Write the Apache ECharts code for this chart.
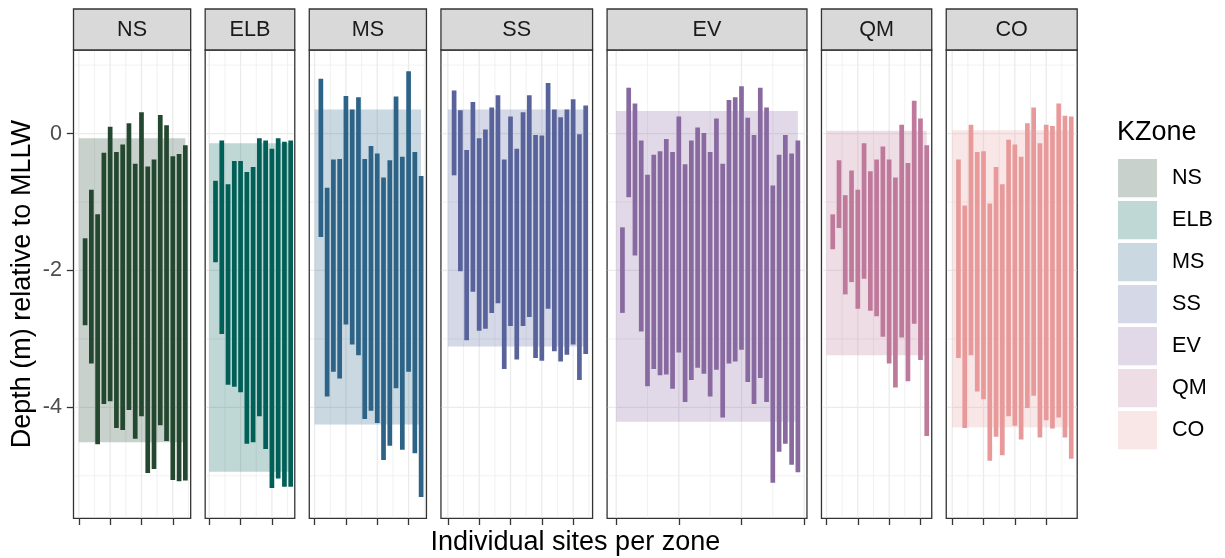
<!DOCTYPE html>
<html>
<head>
<meta charset="utf-8">
<script src="https://cdn.jsdelivr.net/npm/echarts@6/dist/echarts.min.js"></script>
<style>
  html, body { margin: 0; padding: 0; background: #ffffff; }
  #chart { width: 1225px; height: 558px; }
</style>
</head>
<body>
<div id="chart"></div>
<script>
// Zones in panel order and their colours
const zones = ['NS', 'ELB', 'MS', 'SS', 'EV', 'QM', 'CO'];
const zoneColors = ['#23472F', '#005F56', '#2C6387', '#59639B', '#8869A0', '#BF799B', '#E89A9A'];

// Per-site depth range (m, relative to MLLW): shallow end and deep end of each site
const nsTop    = [-1.53, -0.82, -1.18, -0.28, 0.10, -0.27, -0.16, 0.15, -0.44, 0.31, -0.48, -0.38, 0.27, 0.12, -0.33, -0.30, -0.17];
const nsBottom = [-2.80, -3.36, -4.54, -3.95, -3.91, -4.30, -4.33, -4.04, -4.46, -4.13, -4.96, -4.90, -4.26, -4.49, -5.06, -5.08, -5.07];

const elbTop    = [-0.69, -0.10, -0.74, -0.40, -0.40, -0.56, -0.49, -0.07, -0.10, -0.22, -0.07, -0.12, -0.10];
const elbBottom = [-1.88, -2.93, -3.67, -3.70, -3.78, -4.53, -4.51, -4.13, -4.61, -5.18, -5.04, -5.16, -5.16];

const msTop    = [0.80, -0.79, -0.38, -0.37, 0.55, 0.35, 0.53, -0.37, -0.18, -0.29, -0.64, -0.39, 0.54, -0.34, 0.91, -0.27, -0.62];
const msBottom = [-1.51, -3.84, -3.48, -3.58, -2.79, -3.08, -3.24, -4.17, -4.05, -4.23, -4.77, -4.56, -3.72, -4.62, -3.48, -4.67, -5.31];

const ssTop    = [0.63, 0.34, -0.24, 0.46, -0.07, 0.06, 0.38, 0.56, -0.38, 0.25, -0.22, 0.31, 0.56, -0.02, -0.03, 0.74, 0.35, 0.24, 0.35, 0.50, -0.01, 0.41];
const ssBottom = [-0.61, -2.01, -3.02, -2.31, -2.88, -2.85, -2.62, -2.48, -3.44, -2.81, -3.30, -2.81, -2.68, -3.28, -3.32, -2.56, -3.18, -3.33, -3.23, -3.08, -3.60, -3.22];

const evTop    = [-1.37, 0.67, 0.44, -0.10, -0.60, -0.31, -0.26, -0.08, -0.27, 0.25, -0.45, -0.10, 0.09, 0.01, -0.27, 0.22, -0.44, 0.49, 0.53, 0.69, 0.23, -0.02, 0.67, 0.38, -0.76, -0.31, -0.02, -0.29, -0.10];
const evBottom = [-2.62, -0.93, -1.78, -2.89, -3.69, -3.44, -3.53, -3.52, -3.73, -3.20, -3.92, -3.60, -3.42, -3.51, -3.84, -3.45, -4.15, -3.36, -3.33, -3.16, -3.63, -3.95, -3.57, -3.92, -5.10, -4.65, -4.53, -4.84, -4.95];

const qmTop    = [-1.18, -0.39, -0.90, -0.54, -0.82, -0.14, -0.55, -0.38, -0.19, -0.38, -0.64, 0.13, -0.43, 0.48, 0.22, -0.17];
const qmBottom = [-1.69, -1.38, -2.35, -2.17, -2.56, -2.12, -2.59, -2.67, -2.97, -3.36, -3.71, -2.98, -3.62, -2.78, -3.31, -4.42];

const coTop    = [-0.38, -1.05, 0.13, -0.27, -0.26, -1.02, -0.49, -0.74, -0.09, -0.16, -0.34, 0.15, 0.38, -0.14, 0.13, 0.11, 0.44, 0.26, 0.25];
const coBottom = [-3.28, -4.30, -3.24, -3.77, -3.88, -4.78, -4.43, -4.70, -4.13, -4.27, -4.47, -4.01, -3.83, -4.44, -4.19, -4.31, -4.15, -4.44, -4.75];

// Overall depth band of each zone
const zoneBandTop    = [-0.07, -0.14, 0.35, 0.35, 0.33, 0.04, 0.05];
const zoneBandBottom = [-4.51, -4.94, -4.25, -3.11, -4.21, -3.24, -4.29];

// Axis breaks
const xTickStep = [5, 5, 5, 5, 10, 5, 5];
const yTickValues = [0, -2, -4];
const yMinorValues = [1, -1, -3, -5];

const siteTops = [nsTop, elbTop, msTop, ssTop, evTop, qmTop, coTop];
const siteBottoms = [nsBottom, elbBottom, msBottom, ssBottom, evBottom, qmBottom, coBottom];

// ---------- layout ----------
const FONT = '"Liberation Sans", Arial, Helvetica, sans-serif';
const plotLeft = 73.5, plotRight = 1077.2, panelGap = 14.5;
const plotTop = 50, plotBottom = 518.3, stripTop = 9;
const tickLen = 6.7;
const borderCol = '#333333';
const gridCol = '#EBEBEB';

// y range: data extent expanded by 5% on each side
const allY = [].concat(...siteTops, ...siteBottoms, zoneBandTop, zoneBandBottom);
const yLo = Math.min(...allY), yHi = Math.max(...allY);
const yPad = 0.05 * (yHi - yLo);
const yMin = yLo - yPad, yMax = yHi + yPad;

// x range per panel: [0, n] expanded by 5%; panel widths proportional to range
const counts = siteTops.map(a => a.length);
const ranges = counts.map(n => 1.1 * n);
const totalRange = ranges.reduce((a, b) => a + b, 0);
const pxPerUnit = (plotRight - plotLeft - panelGap * (zones.length - 1)) / totalRange;

function hexToRgba(hex, a) {
  const v = parseInt(hex.slice(1), 16);
  return 'rgba(' + ((v >> 16) & 255) + ',' + ((v >> 8) & 255) + ',' + (v & 255) + ',' + a + ')';
}

const grids = [], xAxes = [], yAxes = [], series = [], graphics = [];
let left = plotLeft;

zones.forEach((zone, i) => {
  const n = counts[i];
  const width = ranges[i] * pxPerUnit;
  const xMin = -0.05 * n, xMax = 1.05 * n;
  const step = xTickStep[i];
  const majors = [], minors = [];
  for (let v = Math.ceil(xMin / step) * step; v <= xMax; v += step) majors.push(v);
  for (let v = Math.ceil((xMin - step / 2) / step) * step + step / 2; v <= xMax; v += step) {
    if (v >= xMin) minors.push(v);
  }

  grids.push({
    left: left, top: plotTop, width: width, height: plotBottom - plotTop,
    show: true, backgroundColor: '#ffffff', borderColor: borderCol, borderWidth: 1.3
  });

  xAxes.push({
    type: 'value', gridIndex: i, min: xMin, max: xMax, position: 'bottom',
    axisLine: { show: false, onZero: false },
    axisLabel: { show: false, customValues: majors },
    axisTick: { show: true, customValues: majors, length: tickLen, lineStyle: { color: borderCol, width: 1.3 } },
    splitLine: { show: false }
  });

  yAxes.push({
    type: 'value', gridIndex: i, min: yMin, max: yMax, position: 'left',
    axisLine: { show: false, onZero: false },
    axisTick: { show: i === 0, customValues: yTickValues, length: tickLen, lineStyle: { color: borderCol, width: 1.3 } },
    axisLabel: {
      show: i === 0, customValues: yTickValues, margin: 11.5,
      color: '#4D4D4D', fontFamily: FONT, fontSize: 21.6
    },
    splitLine: { show: false }
  });

  // grid lines (vertical then horizontal)
  series.push({
    type: 'custom', xAxisIndex: i, yAxisIndex: i, z: 1, silent: true,
    data: majors.map(v => [v, 0, 1]).concat(minors.map(v => [v, 0, 0])),
    renderItem: (params, api) => {
      const cs = params.coordSys;
      const x = api.coord([api.value(0), 0])[0];
      return { type: 'line', shape: { x1: x, y1: cs.y + 0.7, x2: x, y2: cs.y + cs.height - 0.7 },
               style: { stroke: gridCol, lineWidth: api.value(2) ? 1.3 : 0.7 } };
    }
  });
  series.push({
    type: 'custom', xAxisIndex: i, yAxisIndex: i, z: 1, silent: true,
    data: yTickValues.map(v => [0, v, 1]).concat(yMinorValues.map(v => [0, v, 0])),
    renderItem: (params, api) => {
      const cs = params.coordSys;
      const y = api.coord([0, api.value(1)])[1];
      return { type: 'line', shape: { x1: cs.x + 0.7, y1: y, x2: cs.x + cs.width - 0.7, y2: y },
               style: { stroke: gridCol, lineWidth: api.value(2) ? 1.3 : 0.7 } };
    }
  });

  // zone depth band
  series.push({
    name: zone, type: 'custom', xAxisIndex: i, yAxisIndex: i, z: 2,
    itemStyle: { color: hexToRgba(zoneColors[i], 0.25) },
    data: [[0, zoneBandTop[i], n, zoneBandBottom[i]]],
    renderItem: (params, api) => {
      const p1 = api.coord([api.value(0), api.value(1)]);
      const p2 = api.coord([api.value(2), api.value(3)]);
      return { type: 'rect', shape: { x: p1[0], y: p1[1], width: p2[0] - p1[0], height: p2[1] - p1[1] },
               style: { fill: zoneColors[i], opacity: 0.25 } };
    }
  });

  // one bar per site, spanning its depth range
  series.push({
    type: 'custom', xAxisIndex: i, yAxisIndex: i, z: 3,
    data: siteTops[i].map((t, k) => [k + 1, t, siteBottoms[i][k]]),
    renderItem: (params, api) => {
      const x = api.value(0);
      const p1 = api.coord([x, api.value(1)]);
      const p2 = api.coord([x, api.value(2)]);
      const w = api.size([0.75, 0])[0];
      return { type: 'rect', shape: { x: p1[0] - w / 2, y: p1[1], width: w, height: p2[1] - p1[1] },
               style: { fill: zoneColors[i] } };
    }
  });

  // facet strip
  graphics.push({
    type: 'rect', z: 10,
    shape: { x: left, y: stripTop, width: width, height: plotTop - stripTop },
    style: { fill: '#D9D9D9', stroke: borderCol, lineWidth: 1.3 }
  });
  graphics.push({
    type: 'text', z: 11, x: left + width / 2, y: (stripTop + plotTop) / 2 + 1,
    style: { text: zone, align: 'center', verticalAlign: 'middle', fill: '#1A1A1A', font: '21.6px ' + FONT }
  });

  left += width + panelGap;
});

// axis titles and legend title
graphics.push({
  type: 'text', x: 22.5, y: (plotTop + plotBottom) / 2, rotation: Math.PI / 2,
  style: { text: 'Depth (m) relative to MLLW', align: 'center', verticalAlign: 'middle', fill: '#000000', font: '27px ' + FONT }
});
graphics.push({
  type: 'text', x: (plotLeft + plotRight) / 2, y: 543,
  style: { text: 'Individual sites per zone', align: 'center', verticalAlign: 'middle', fill: '#000000', font: '27px ' + FONT }
});
graphics.push({
  type: 'text', x: 1117, y: 133,
  style: { text: 'KZone', align: 'left', verticalAlign: 'middle', fill: '#000000', font: '27px ' + FONT }
});

const chart = echarts.init(document.getElementById('chart'), null, { renderer: 'canvas' });
chart.setOption({
  animation: false,
  backgroundColor: '#ffffff',
  grid: grids,
  xAxis: xAxes,
  yAxis: yAxes,
  legend: {
    data: zones,
    orient: 'vertical',
    left: 1118, top: 159, padding: 0,
    icon: 'rect',
    itemWidth: 39, itemHeight: 38.3, itemGap: 3.7,
    itemStyle: { borderWidth: 0 },
    selectedMode: false,
    textStyle: { color: '#000000', fontFamily: FONT, fontSize: 21.6, padding: [0, 0, 0, 10] }
  },
  series: series,
  graphic: graphics
});
</script>
</body>
</html>
